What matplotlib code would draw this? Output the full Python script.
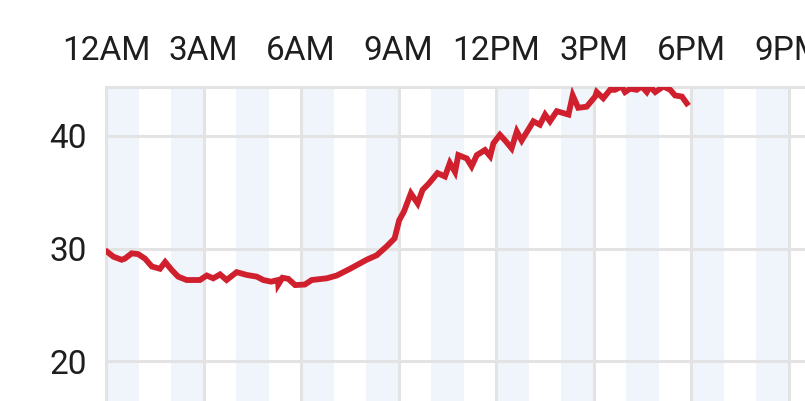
import matplotlib
matplotlib.use("Agg")
import matplotlib.pyplot as plt

# ---- data (hours since midnight, value) ----
hours = [0.04, 0.23, 0.48, 0.58, 0.79, 0.99, 1.20, 1.41, 1.66, 1.82, 2.02, 2.22,
         2.48, 2.89, 3.10, 3.30, 3.51, 3.71, 4.02, 4.33, 4.64, 4.84, 5.08, 5.29,
         5.30, 5.43, 5.61, 5.82, 6.12, 6.33, 6.79, 7.10, 7.51, 8.02, 8.33, 8.64,
         8.88, 9.02, 9.17, 9.38, 9.59, 9.74, 9.94, 10.2, 10.43, 10.58, 10.74,
         10.84, 11.10, 11.25, 11.41, 11.66, 11.82, 11.92, 12.12, 12.28, 12.48,
         12.64, 12.79, 13.15, 13.35, 13.51, 13.66, 13.87, 14.23, 14.36, 14.53,
         14.79, 15.05, 15.10, 15.30, 15.51, 15.66, 15.87, 15.97, 16.13, 16.33,
         16.48, 16.64, 16.74, 16.90, 17.15, 17.36, 17.51, 17.72, 17.87]
values = [29.7, 29.27, 29.0, 29.1, 29.57, 29.5, 29.1, 28.4, 28.2, 28.8, 28.1, 27.5,
          27.2, 27.2, 27.6, 27.35, 27.7, 27.2, 27.9, 27.65, 27.5, 27.2, 27.05,
          27.2, 26.8, 27.4, 27.3, 26.75, 26.8, 27.2, 27.35, 27.6, 28.2, 29.0, 29.4,
          30.2, 30.9, 32.5, 33.3, 34.9, 34.0, 35.2, 35.8, 36.7, 36.4, 37.6, 36.8,
          38.3, 38.0, 37.3, 38.3, 38.75, 38.2, 39.35, 40.1, 39.6, 38.9, 40.4, 39.6,
          41.3, 41.0, 41.9, 41.3, 42.2, 41.9, 43.6, 42.5, 42.6, 43.5, 43.9, 43.35,
          44.1, 44.1, 44.4, 43.9, 44.2, 44.1, 44.4, 43.9, 44.4, 43.9, 44.4, 44.1,
          43.6, 43.5, 42.9]

tick_hours = [0, 3, 6, 9, 12, 15, 18, 21]
tick_labels = ["12AM", "3AM", "6AM", "9AM", "12PM", "3PM", "6PM", "9PM"]
y_ticks = [20, 30, 40]

plt.rcParams['font.family'] = ['Roboto', 'DejaVu Sans']

W, H, DPI = 805, 401, 100
fig = plt.figure(figsize=(W / DPI, H / DPI), dpi=DPI)
ax_left = 106 / W
ax_top = 1 - 87 / H
ax = fig.add_axes([ax_left, 0.0, 1.0 - ax_left, ax_top])

x_max = (W - 106) / 32.5
ax.set_xlim(0, x_max)
ax.set_ylim(16.45, 44.35)

band_color = "#f0f5fb"
for h in range(0, 22, 2):
    ax.axvspan(h, h + 1, color=band_color, lw=0, zorder=0)

grid_color = "#e3e3e3"
for h in tick_hours:
    ax.axvline(h, color=grid_color, lw=2.2, zorder=1)
for v in y_ticks:
    ax.axhline(v, color=grid_color, lw=2.2, zorder=1)

ax.plot(hours, values, color="#d0202e", lw=4.2, zorder=3,
        solid_joinstyle="miter", clip_on=True)

ax.xaxis.tick_top()
ax.set_xticks(tick_hours)
ax.set_xticklabels(tick_labels)
ax.set_yticks(y_ticks)
ax.tick_params(axis="x", length=0, pad=14.5, labelsize=24, labelcolor="#1e1e1e")
ax.tick_params(axis="y", length=0, pad=14, labelsize=24, labelcolor="#1e1e1e")

for s in ["right", "bottom"]:
    ax.spines[s].set_visible(False)
for s in ["left", "top"]:
    ax.spines[s].set_color(grid_color)
    ax.spines[s].set_linewidth(2.2)

fig.savefig("out.png", dpi=DPI)
